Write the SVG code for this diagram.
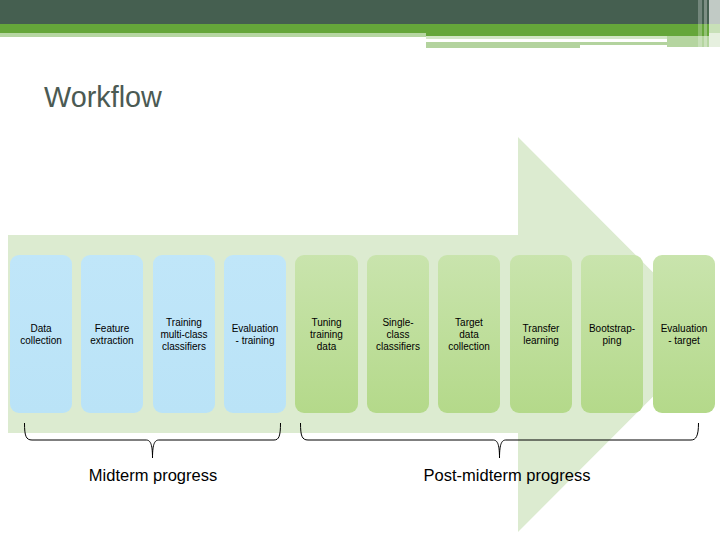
<svg xmlns="http://www.w3.org/2000/svg" width="720" height="540" viewBox="0 0 720 540">
<defs>
<linearGradient id="gGreen" x1="0" y1="0" x2="0" y2="1">
<stop offset="0" stop-color="#c9e4ad"/>
<stop offset="1" stop-color="#b4d98a"/>
</linearGradient>
<linearGradient id="gBlue" x1="0" y1="0" x2="0" y2="1">
<stop offset="0" stop-color="#c0e6f9"/>
<stop offset="1" stop-color="#bae3f7"/>
</linearGradient>
</defs>
<style>
.blue{fill:url(#gBlue)}
.green{fill:url(#gGreen)}
.lbl{font-family:"Liberation Sans",Arial,sans-serif;font-size:10px;fill:#000;text-anchor:middle}
.big{font-family:"Liberation Sans",Arial,sans-serif;font-size:16.5px;fill:#000;text-anchor:middle}
.brace{fill:none;stroke:#000;stroke-width:1}
</style>
<rect width="720" height="540" fill="#fff"/>
<g id="header">
<rect x="0" y="0" width="720" height="24" fill="#455f50"/>
<rect x="0" y="24" width="720" height="9" fill="#65a63a"/>
<rect x="0" y="33" width="426" height="4" fill="#b6d6a2"/>
<rect x="426" y="33" width="294" height="3" fill="#65a63a"/>
<rect x="426" y="36" width="241" height="3" fill="#d2e6c6"/>
<rect x="426" y="42" width="241" height="3" fill="#b3d39e"/>
<rect x="426" y="45" width="154" height="3" fill="#b3d39e"/>
<rect x="667" y="36" width="42" height="11" fill="#b5d5a0"/>
<rect x="698" y="0" width="4" height="47" fill="#fff" opacity="0.25"/>
<rect x="704" y="0" width="3" height="47" fill="#fff" opacity="0.3"/>
<rect x="709" y="0" width="11" height="24" fill="#c1cac5"/>
<rect x="709" y="24" width="11" height="9" fill="#c8e0b8"/>
<rect x="709" y="33" width="11" height="14" fill="#e6f0df"/>
</g>
<text id="title" x="44" y="107" font-family="Liberation Sans, Arial, sans-serif" font-size="28.8" fill="#4b5a53">Workflow</text>
<g id="arrow">
<path d="M8,235 L518,235 L518,137 L715,334.5 L518,532 L518,433 L8,433 Z" fill="#dcebd0"/>
</g>
<g id="n1"><rect class="blue" x="10" y="255" width="62" height="158" rx="9"/><text class="lbl" x="41" y="332">Data</text><text class="lbl" x="41" y="344">collection</text></g>
<g id="n2"><rect class="blue" x="81" y="255" width="62" height="158" rx="9"/><text class="lbl" x="112" y="332">Feature</text><text class="lbl" x="112" y="344">extraction</text></g>
<g id="n3"><rect class="blue" x="153" y="255" width="62" height="158" rx="9"/><text class="lbl" x="184" y="326">Training</text><text class="lbl" x="184" y="338">multi-class</text><text class="lbl" x="184" y="350">classifiers</text></g>
<g id="n4"><rect class="blue" x="224" y="255" width="62" height="158" rx="9"/><text class="lbl" x="255" y="332">Evaluation</text><text class="lbl" x="255" y="344">- training</text></g>
<g id="n5"><rect class="green" x="295" y="255" width="63" height="158" rx="9"/><text class="lbl" x="326.5" y="326">Tuning</text><text class="lbl" x="326.5" y="338">training</text><text class="lbl" x="326.5" y="350">data</text></g>
<g id="n6"><rect class="green" x="367" y="255" width="62" height="158" rx="9"/><text class="lbl" x="398" y="326">Single-</text><text class="lbl" x="398" y="338">class</text><text class="lbl" x="398" y="350">classifiers</text></g>
<g id="n7"><rect class="green" x="438" y="255" width="62" height="158" rx="9"/><text class="lbl" x="469" y="326">Target</text><text class="lbl" x="469" y="338">data</text><text class="lbl" x="469" y="350">collection</text></g>
<g id="n8"><rect class="green" x="510" y="255" width="62" height="158" rx="9"/><text class="lbl" x="541" y="332">Transfer</text><text class="lbl" x="541" y="344">learning</text></g>
<g id="n9"><rect class="green" x="581" y="255" width="62" height="158" rx="9"/><text class="lbl" x="612" y="332">Bootstrap-</text><text class="lbl" x="612" y="344">ping</text></g>
<g id="n10"><rect class="green" x="653" y="255" width="62" height="158" rx="9"/><text class="lbl" x="684" y="332">Evaluation</text><text class="lbl" x="684" y="344">- target</text></g>
<g id="connectors">
<path class="brace" d="M24.5,423 C24.5,436 26,440 32,440 L146,440 C150,440 152.5,443 152.5,458 M152.5,458 C152.5,443 155,440 159,440 L274,440 C279,440 280.5,436 280.5,423"/>
<path class="brace" d="M300.5,423 C300.5,436 302,440 308,440 L493,440 C497,440 499.5,443 499.5,458 M499.5,458 C499.5,443 502,440 506,440 L691,440 C696,440 698.5,436 698.5,423"/>
</g>
<text class="big" x="153" y="481">Midterm progress</text>
<text class="big" x="507" y="481">Post-midterm progress</text>
</svg>
